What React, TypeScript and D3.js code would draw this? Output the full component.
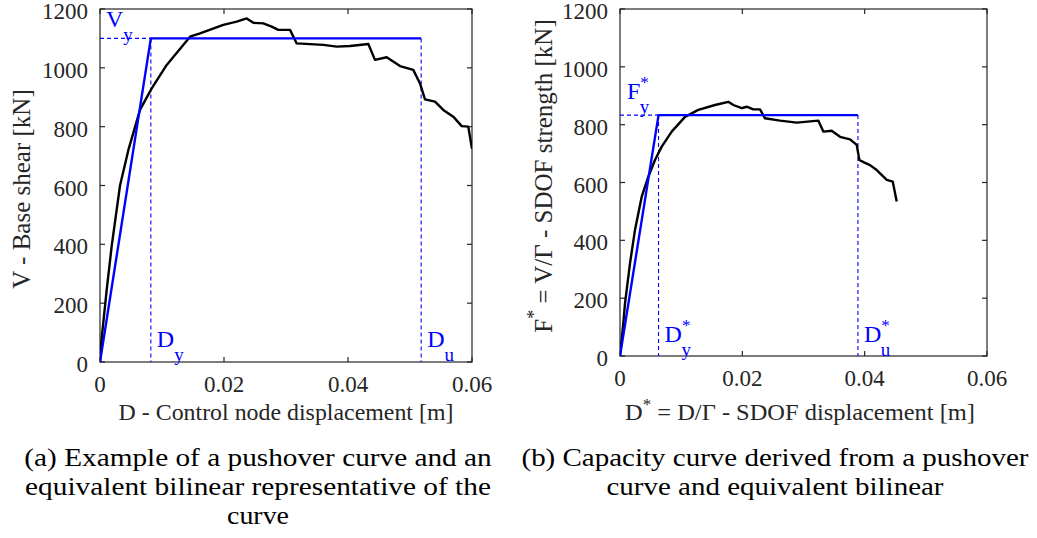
import { useEffect, useRef } from "react";
import * as d3 from "d3";

// pushover curve (a)
const pushDisp = [0, 0.00027, 0.00108, 0.00189, 0.00323, 0.00457, 0.00645, 0.00834, 0.01076, 0.01452, 0.01613, 0.01989, 0.02205, 0.02366, 0.02473, 0.02634, 0.02769, 0.02876, 0.03065, 0.03173, 0.03602, 0.03818, 0.04032, 0.04328, 0.04435, 0.04624, 0.04839, 0.05053, 0.05161, 0.05242, 0.05403, 0.05537, 0.05698, 0.05834, 0.0594, 0.06];
const pushShear = [0, 80, 245, 395, 600, 720, 857, 930, 1010, 1106, 1117, 1146, 1157, 1168, 1153, 1151, 1140, 1129, 1129, 1083, 1078, 1072, 1074, 1081, 1027, 1036, 1006, 993, 947, 893, 885, 857, 834, 802, 800, 725];
// bilinear (a): origin, yield, ultimate
const bilinADisp = [0, 0.0082, 0.0518];
const bilinAForce = [0, 1100, 1100];

// capacity curve (b)
const capDisp = [0, 0.00054, 0.00082, 0.00164, 0.00245, 0.00355, 0.00463, 0.00572, 0.00682, 0.00845, 0.01063, 0.0128, 0.01553, 0.01771, 0.01853, 0.0199, 0.02072, 0.0218, 0.02289, 0.02371, 0.02616, 0.02889, 0.03242, 0.03324, 0.03461, 0.03597, 0.03761, 0.0387, 0.03913, 0.04006, 0.04088, 0.04197, 0.04361, 0.04459, 0.04524];
const capForce = [0, 113, 182, 321, 436, 551, 620, 678, 724, 776, 827, 851, 868, 879, 868, 857, 862, 853, 853, 822, 814, 807, 814, 776, 779, 758, 749, 730, 678, 668, 660, 643, 609, 603, 534];
const bilinBDisp = [0, 0.0063, 0.0389];
const bilinBForce = [0, 833, 833];

const xTicks = [0, 0.02, 0.04, 0.06];
const xTickLabels = ["0", "0.02", "0.04", "0.06"];
const yTicks = [0, 200, 400, 600, 800, 1000, 1200];

const BLUE = "#0000ff";
const AXIS = "#262626";
const TIMES = "'Liberation Serif', 'Times New Roman', serif";

type Panel = {
  left: number;
  right: number;
  top: number;
  bottom: number;
  disp: number[];
  force: number[];
  bx: number[];
  by: number[];
  star: boolean;
  yLetter: string;
  xLabel: string;
  xLabelW: number;
  xLabelX: number;
  yLabel: string;
  yLabelX: number;
  yLabelY: number;
  caption: string[];
  captionW: number[];
  captionX: number;
};

const panels: Panel[] = [
  {
    left: 100, right: 472, top: 9, bottom: 362,
    disp: pushDisp, force: pushShear, bx: bilinADisp, by: bilinAForce,
    star: false, yLetter: "V",
    xLabel: "D - Control node displacement [m]",
    xLabelW: 335, xLabelX: 286,
    yLabel: "V - Base shear [kN]",
    yLabelX: 30, yLabelY: 189,
    caption: ["(a) Example of a pushover curve and an", "equivalent bilinear representative of the", "curve"],
    captionW: [468, 466, 62],
    captionX: 258,
  },
  {
    left: 620, right: 987, top: 9, bottom: 356,
    disp: capDisp, force: capForce, bx: bilinBDisp, by: bilinBForce,
    star: true, yLetter: "F",
    xLabel: " = D/Γ - SDOF displacement [m]",
    xLabelW: 350, xLabelX: 800,
    yLabel: " = V/Γ - SDOF strength [kN]",
    yLabelX: 552, yLabelY: 176,
    caption: ["(b) Capacity curve derived from a pushover", "curve and equivalent bilinear"],
    captionW: [508, 338],
    captionX: 775,
  },
];

// stretch a centred text horizontally so it spans the wanted width
const fitWidth = (t: d3.Selection<SVGTextElement, unknown, null, undefined>, cx: number, cy: number, w: number) => {
  const bw = (t.node() as SVGTextElement).getBBox().width || w;
  t.attr("transform", `translate(${cx},${cy}) scale(${w / bw},1)`);
};

const App = () => {
  const svgRef = useRef<SVGSVGElement>(null);

  useEffect(() => {
    const svg = d3.select(svgRef.current);
    svg.selectAll("*").remove();

    panels.forEach((p, pi) => {
      const x = d3.scaleLinear().domain([0, 0.06]).range([p.left, p.right]);
      const y = d3.scaleLinear().domain([0, 1200]).range([p.bottom, p.top]);
      const g = svg.append("g");

      g.append("clipPath").attr("id", "clip" + pi)
        .append("rect")
        .attr("x", p.left).attr("y", p.top)
        .attr("width", p.right - p.left).attr("height", p.bottom - p.top);

      // axes box with inward ticks on all sides
      g.append("rect")
        .attr("x", p.left).attr("y", p.top)
        .attr("width", p.right - p.left).attr("height", p.bottom - p.top)
        .attr("fill", "none").attr("stroke", AXIS).attr("stroke-width", 1.2);

      const tl = 5;
      xTicks.forEach((t, i) => {
        const xp = x(t);
        g.append("line").attr("x1", xp).attr("x2", xp).attr("y1", p.bottom).attr("y2", p.bottom - tl)
          .attr("stroke", AXIS).attr("stroke-width", 1.2);
        g.append("line").attr("x1", xp).attr("x2", xp).attr("y1", p.top).attr("y2", p.top + tl)
          .attr("stroke", AXIS).attr("stroke-width", 1.2);
        g.append("text").attr("x", xp).attr("y", p.bottom + 30)
          .attr("text-anchor", "middle").attr("font-family", TIMES).attr("font-size", 23)
          .attr("fill", AXIS).text(xTickLabels[i]);
      });
      yTicks.forEach((t) => {
        const yp = y(t);
        g.append("line").attr("x1", p.left).attr("x2", p.left + tl).attr("y1", yp).attr("y2", yp)
          .attr("stroke", AXIS).attr("stroke-width", 1.2);
        g.append("line").attr("x1", p.right).attr("x2", p.right - tl).attr("y1", yp).attr("y2", yp)
          .attr("stroke", AXIS).attr("stroke-width", 1.2);
        g.append("text").attr("x", p.left - 12).attr("y", yp + 10)
          .attr("text-anchor", "end").attr("font-family", TIMES).attr("font-size", 23)
          .attr("fill", AXIS).text(String(t));
      });

      const plot = g.append("g").attr("clip-path", `url(#clip${pi})`);

      // dashed guides
      const dy = p.bx[1], fy = p.by[1], du = p.bx[2];
      plot.append("line").attr("x1", x(0)).attr("x2", x(dy)).attr("y1", y(fy)).attr("y2", y(fy))
        .attr("stroke", BLUE).attr("stroke-width", 1.1).attr("stroke-dasharray", "4,3");
      [dy, du].forEach((d) => {
        plot.append("line").attr("x1", x(d)).attr("x2", x(d)).attr("y1", y(fy)).attr("y2", y(0))
          .attr("stroke", BLUE).attr("stroke-width", 1.1).attr("stroke-dasharray", "4,3");
      });

      const curve = d3.line<[number, number]>().x((d) => x(d[0])).y((d) => y(d[1]));

      plot.append("path")
        .datum(p.disp.map((d, i) => [d, p.force[i]] as [number, number]))
        .attr("d", curve)
        .attr("fill", "none").attr("stroke", "#000").attr("stroke-width", 2.4)
        .attr("stroke-linejoin", "round");

      plot.append("path")
        .datum(p.bx.map((d, i) => [d, p.by[i]] as [number, number]))
        .attr("d", curve)
        .attr("fill", "none").attr("stroke", BLUE).attr("stroke-width", 2.4);

      // annotation labels
      const ann = (tx: number, ty: number, letter: string, sub: string) => {
        const t = g.append("text").attr("x", tx).attr("y", ty)
          .attr("font-family", TIMES).attr("font-size", 24).attr("fill", BLUE);
        t.append("tspan").text(letter);
        if (p.star) {
          t.append("tspan").attr("font-size", 17).attr("dy", -11).text("*");
          t.append("tspan").attr("font-size", 19).attr("dx", -9).attr("dy", 25).text(sub);
        } else {
          t.append("tspan").attr("font-size", 19).attr("dy", 14).text(sub);
        }
      };
      if (p.star) {
        ann(p.left + 7, y(fy) - 16, p.yLetter, "y");
        ann(x(dy) + 6, p.bottom - 14, "D", "y");
        ann(x(du) + 6, p.bottom - 14, "D", "u");
      } else {
        ann(p.left + 6, y(fy) - 11, p.yLetter, "y");
        ann(x(dy) + 6, p.bottom - 15, "D", "y");
        ann(x(du) + 6, p.bottom - 15, "D", "u");
      }

      // axis labels
      const xl = g.append("text").attr("x", 0).attr("y", 0)
        .attr("text-anchor", "middle").attr("font-family", TIMES).attr("font-size", 23).attr("fill", AXIS);
      const yl = g.append("text")
        .attr("transform", `translate(${p.yLabelX},${p.yLabelY}) rotate(-90)`)
        .attr("text-anchor", "middle").attr("font-family", TIMES).attr("font-size", 25).attr("fill", AXIS);
      if (p.star) {
        xl.append("tspan").text("D");
        xl.append("tspan").attr("font-size", 16).attr("dy", -10).text("*");
        xl.append("tspan").attr("dy", 10).text(p.xLabel);
        yl.append("tspan").text("F");
        yl.append("tspan").attr("font-size", 18).attr("dy", -12).text("*");
        yl.append("tspan").attr("dy", 12).text(p.yLabel);
      } else {
        xl.text(p.xLabel);
        yl.text(p.yLabel);
      }
      fitWidth(xl, p.xLabelX, 420, p.xLabelW);

      // caption
      p.caption.forEach((c, i) => {
        const ct = g.append("text").attr("x", 0).attr("y", 0)
          .attr("text-anchor", "middle").attr("font-family", TIMES).attr("font-size", 25)
          .attr("fill", "#000").text(c);
        fitWidth(ct, p.captionX, 466 + i * 29, p.captionW[i]);
      });
    });
  }, []);

  return (
    <svg
      ref={svgRef}
      width={1037}
      height={538}
      style={{ position: "absolute", left: 0, top: 0, background: "#fff" }}
    />
  );
};

export default App;
